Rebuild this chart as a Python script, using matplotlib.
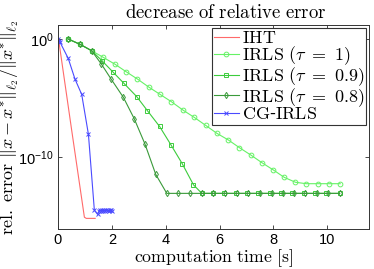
import numpy as np
import matplotlib
matplotlib.use("Agg")
import matplotlib.pyplot as plt

plt.rcParams['mathtext.fontset'] = 'custom'
plt.rcParams['mathtext.rm'] = 'Liberation Sans'
plt.rcParams['mathtext.it'] = 'Liberation Sans:italic'
plt.rcParams['font.family'] = 'Liberation Sans'

# data: time [s] and log10 of relative error
iht_t = [0.02, 0.5, 0.98, 1.05, 1.38]
iht_e = [0.0, -7.6, -15.1, -15.2, -15.2]

cg_t = [0.0, 0.03, 0.07, 0.38, 0.63, 0.88, 1.13, 1.35, 1.47,
        1.52, 1.56, 1.60, 1.64, 1.68, 1.72, 1.76, 1.80, 1.84, 1.88, 1.92, 1.96, 2.00]
cg_e = [0.0, -0.14, -0.25, -1.64, -3.39, -4.69, -8.08, -14.5, -14.86,
        -14.6, -14.5, -14.55, -14.45, -14.6, -14.5, -14.55, -14.45, -14.5, -14.6, -14.5, -14.45, -14.55]

irls1_t = [0.38, 0.82, 1.25, 1.68, 2.12, 2.53, 2.95, 3.37, 3.79, 4.21, 4.64, 5.06, 5.48,
           5.90, 6.33, 6.74, 7.16, 7.58, 8.00, 8.40, 8.82, 9.22, 9.64, 10.06, 10.48]
irls1_e = [0.0, -0.45, -0.99, -1.55, -2.14, -2.77, -3.39, -4.07, -4.69, -5.31, -6.02, -6.64, -7.31,
           -7.99, -8.56, -9.21, -9.83, -10.49, -11.10, -11.72, -12.14, -12.26, -12.26, -12.26, -12.26]

irls09_t = [0.38, 0.82, 1.25, 1.64, 2.03, 2.45, 2.92, 3.32, 3.77, 4.19, 4.61, 5.03, 5.34,
            5.76, 6.18, 6.60, 7.02, 7.44, 7.86, 8.28, 8.70, 9.12, 9.54, 9.96, 10.46]
irls09_e = [0.0, -0.45, -0.99, -1.85, -2.77, -3.76, -4.87, -6.07, -7.4, -8.95, -10.55, -12.35, -13.08,
            -13.08, -13.08, -13.08, -13.08, -13.08, -13.08, -13.08, -13.08, -13.08, -13.08, -13.08, -13.08]

irls08_t = [0.38, 0.82, 1.25, 1.61, 1.98, 2.43, 2.83, 3.23, 3.63, 4.04, 4.45, 4.90, 5.34,
            5.77, 6.20, 6.64, 7.07, 7.50, 7.94, 8.35, 8.77, 9.19, 9.62, 10.04, 10.46]
irls08_e = [0.0, -0.45, -0.99, -2.12, -3.42, -4.95, -6.75, -8.9, -11.47, -13.08, -13.08, -13.08, -13.08,
            -13.08, -13.08, -13.08, -13.08, -13.08, -13.08, -13.08, -13.08, -13.08, -13.08, -13.08, -13.08]

fig = plt.figure(figsize=(3.74, 2.69), dpi=100)
ax = fig.add_axes([58/374, 40/269, 311/374, 204/269])

lw = 0.8
ax.semilogy(iht_t, 10.0**np.array(iht_e), color='#ff6a6a', lw=lw, label=r'$\mathrm{IHT}$')
ax.semilogy(irls1_t, 10.0**np.array(irls1_e), color='#66f266', lw=lw, marker='o', ms=3.4,
            mfc='none', mew=0.7, label=r'$\mathrm{IRLS}\ (\tau\ =\ 1)$')
ax.semilogy(irls09_t, 10.0**np.array(irls09_e), color='#3ccc3c', lw=lw, marker='s', ms=3.0,
            mfc='none', mew=0.7, label=r'$\mathrm{IRLS}\ (\tau\ =\ 0.9)$')
ax.semilogy(irls08_t, 10.0**np.array(irls08_e), color='#3a9a3a', lw=lw, marker='d', ms=3.2,
            mfc='none', mew=0.7, label=r'$\mathrm{IRLS}\ (\tau\ =\ 0.8)$')
ax.semilogy(cg_t, 10.0**np.array(cg_e), color='#4a4aff', lw=lw, marker='x', ms=2.5,
            mew=0.7, label='$\\mathrm{CG}$-$\\mathrm{IRLS}$')

ax.set_xlim(0, 11.55)
ax.set_ylim(10**-16.1, 10**1.19)
ax.set_xticks([0, 2, 4, 6, 8, 10])
ax.set_yticks([1e0, 1e-10])
ax.set_yticklabels([r'$10^{0}$', r'$10^{-10}$'])
ax.minorticks_off()
ax.tick_params(direction='in', top=True, right=True, length=3, width=0.5,
               labelsize=10.5, pad=3)
for s in ax.spines.values():
    s.set_linewidth(0.7)
    s.set_color('#333333')

ax.set_title(r'$\mathrm{decrease\ of\ relative\ error}$', fontsize=13.5, pad=5,
             math_fontfamily='cm', x=0.54)
ax.set_xlabel(r'$\mathrm{computation\ time\ [s]}$', fontsize=12.8, labelpad=0,
              math_fontfamily='cm')
ax.set_ylabel(r'$\mathrm{rel.\ error}\ \Vert x - x^{*}\Vert_{\ell_2}/\Vert x^{*}\Vert_{\ell_2}$',
              fontsize=13, labelpad=0, math_fontfamily='cm')
ax.yaxis.set_label_coords(-0.118, 0.5)

leg = ax.legend(loc='upper right', bbox_to_anchor=(0.99, 0.985), fontsize=13,
                frameon=True, fancybox=False, edgecolor='#333333', framealpha=1,
                borderpad=0.1, labelspacing=-0.12, handlelength=1.4, handletextpad=0.15,
                borderaxespad=0, numpoints=1)
leg.get_frame().set_linewidth(0.8)
for t in leg.get_texts():
    t.set_math_fontfamily('cm')

fig.savefig('out.png', dpi=100)
